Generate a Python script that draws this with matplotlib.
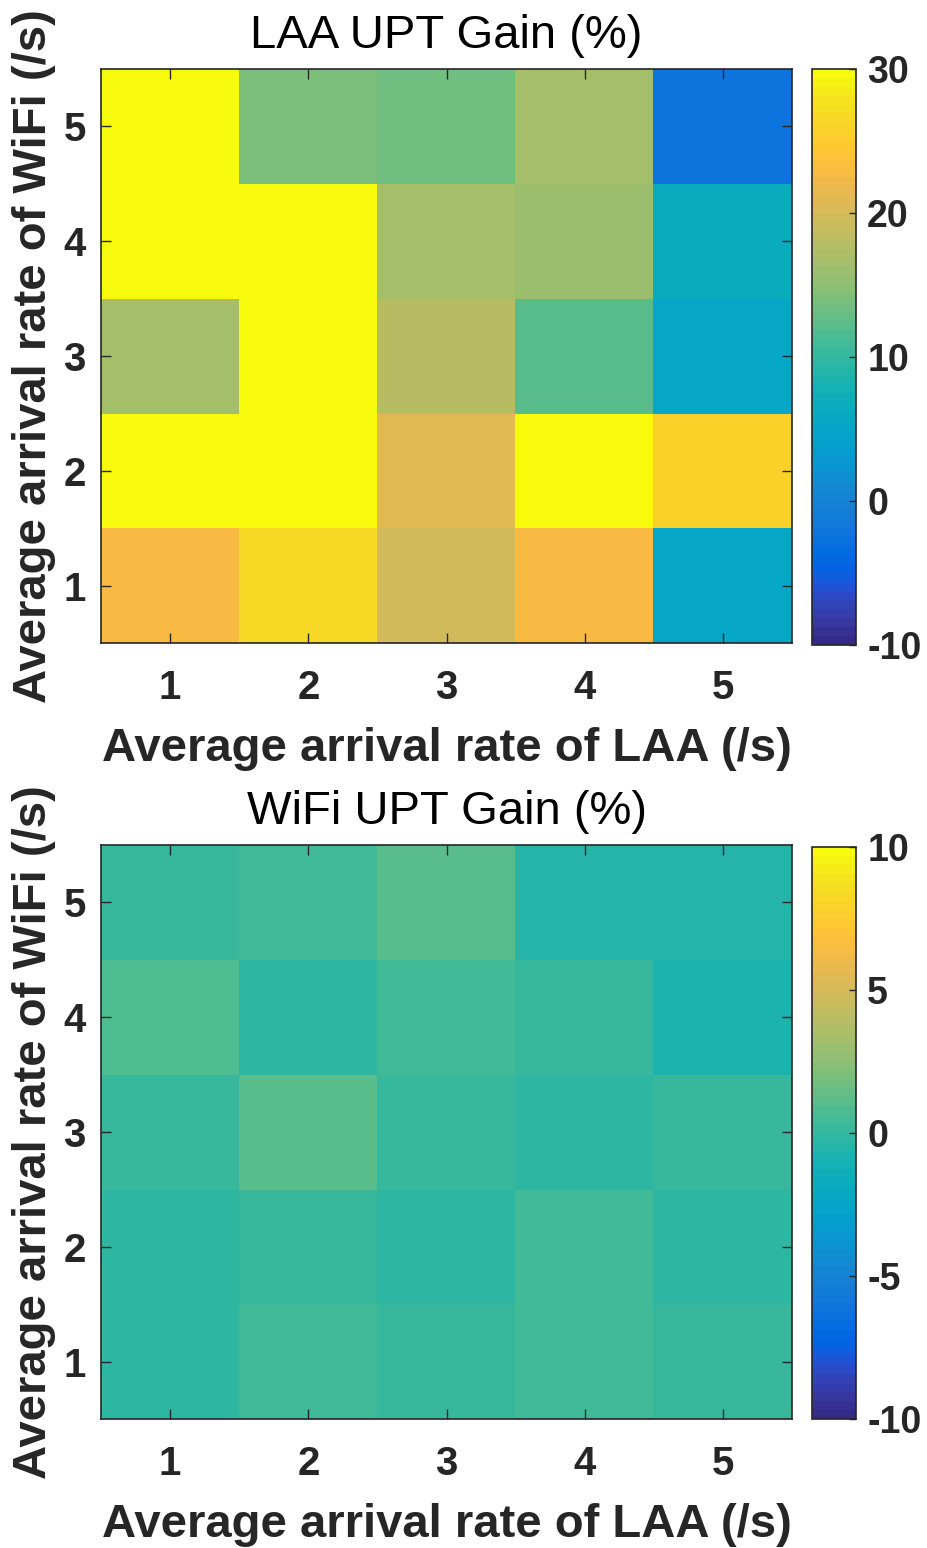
"""
Heat maps of the UPT gain for LAA and WiFi over the arrival rates of both systems
"""
import numpy as np
import matplotlib.pyplot as plt
from matplotlib.colors import ListedColormap

# parula, 64 entries
PARULA = ListedColormap([
    [0.2081, 0.1663, 0.5292], [0.2116, 0.1898, 0.5777], [0.2123, 0.2138, 0.6270],
    [0.2081, 0.2386, 0.6771], [0.1959, 0.2645, 0.7279], [0.1707, 0.2919, 0.7792],
    [0.1253, 0.3242, 0.8303], [0.0591, 0.3598, 0.8683], [0.0117, 0.3875, 0.8820],
    [0.0060, 0.4086, 0.8828], [0.0165, 0.4266, 0.8786], [0.0329, 0.4430, 0.8720],
    [0.0498, 0.4586, 0.8641], [0.0629, 0.4737, 0.8554], [0.0723, 0.4887, 0.8467],
    [0.0779, 0.5040, 0.8384], [0.0793, 0.5200, 0.8312], [0.0749, 0.5375, 0.8263],
    [0.0641, 0.5570, 0.8240], [0.0488, 0.5772, 0.8228], [0.0343, 0.5966, 0.8199],
    [0.0265, 0.6137, 0.8135], [0.0239, 0.6287, 0.8038], [0.0231, 0.6418, 0.7913],
    [0.0228, 0.6535, 0.7768], [0.0267, 0.6642, 0.7607], [0.0384, 0.6743, 0.7436],
    [0.0590, 0.6838, 0.7254], [0.0843, 0.6928, 0.7062], [0.1133, 0.7015, 0.6859],
    [0.1453, 0.7098, 0.6646], [0.1801, 0.7177, 0.6424], [0.2178, 0.7250, 0.6193],
    [0.2586, 0.7317, 0.5954], [0.3022, 0.7376, 0.5712], [0.3482, 0.7424, 0.5473],
    [0.3953, 0.7459, 0.5244], [0.4420, 0.7481, 0.5033], [0.4871, 0.7491, 0.4840],
    [0.5300, 0.7491, 0.4661], [0.5709, 0.7485, 0.4494], [0.6099, 0.7473, 0.4337],
    [0.6473, 0.7456, 0.4188], [0.6834, 0.7435, 0.4044], [0.7184, 0.7411, 0.3905],
    [0.7525, 0.7384, 0.3768], [0.7858, 0.7356, 0.3633], [0.8185, 0.7327, 0.3498],
    [0.8507, 0.7299, 0.3360], [0.8824, 0.7274, 0.3217], [0.9139, 0.7258, 0.3063],
    [0.9450, 0.7261, 0.2886], [0.9739, 0.7314, 0.2666], [0.9938, 0.7455, 0.2403],
    [0.9990, 0.7653, 0.2164], [0.9955, 0.7861, 0.1967], [0.9880, 0.8066, 0.1794],
    [0.9789, 0.8271, 0.1633], [0.9697, 0.8481, 0.1475], [0.9626, 0.8705, 0.1309],
    [0.9589, 0.8949, 0.1132], [0.9598, 0.9218, 0.0948], [0.9661, 0.9514, 0.0755],
    [0.9763, 0.9831, 0.0538]], name='parula')

laa_rate = [1, 2, 3, 4, 5]
wifi_rate = [1, 2, 3, 4, 5]

# rows: WiFi rate 1..5, columns: LAA rate 1..5
laa_gain = np.array([
    [22.8, 26.6, 19.7, 22.8, 5.3],
    [30.0, 30.0, 20.9, 30.0, 26.0],
    [16.6, 30.0, 17.8, 12.2, 5.3],
    [30.0, 30.0, 16.6, 16.0, 6.6],
    [30.0, 14.1, 13.4, 16.6, -2.2],
])
wifi_gain = np.array([
    [-0.16, 0.47, 0.16, 0.47, 0.16],
    [-0.16, 0.16, -0.16, 0.47, -0.16],
    [0.16, 1.10, 0.16, -0.16, 0.16],
    [0.78, -0.16, 0.47, 0.16, -0.78],
    [0.16, 0.47, 1.10, -0.47, -0.47],
])

titles = ['LAA UPT Gain (%)', 'WiFi UPT Gain (%)']
clims = [(-10, 30), (-10, 10)]
cticks = [[-10, 0, 10, 20, 30], [-10, -5, 0, 5, 10]]

DARK = '#262626'
TITLE_FONT = ['Liberation Sans Narrow', 'Liberation Sans', 'DejaVu Sans']
plt.rcParams['font.family'] = ['Liberation Sans', 'DejaVu Sans']
plt.rcParams['axes.unicode_minus'] = False

fig = plt.figure(figsize=(9.27, 15.48), dpi=100)

ax_pos = [[0.109, 0.5846, 0.7454, 0.3708], [0.109, 0.0833, 0.7454, 0.3708]]
cb_pos = [[0.876, 0.5833, 0.0475, 0.3721], [0.876, 0.0833, 0.0475, 0.3695]]

for data, title, clim, ct, apos, cpos in zip([laa_gain, wifi_gain], titles, clims,
                                           cticks, ax_pos, cb_pos):
    ax = fig.add_axes(apos)
    im = ax.imshow(data, cmap=PARULA, vmin=clim[0], vmax=clim[1], origin='lower',
                   aspect='auto', interpolation='nearest',
                   extent=(laa_rate[0] - 0.5, laa_rate[-1] + 0.5,
                           wifi_rate[0] - 0.5, wifi_rate[-1] + 0.5))
    ax.set_xticks(laa_rate)
    ax.set_yticks(wifi_rate)
    ax.tick_params(direction='in', top=True, right=True, length=7, width=1,
                   color=DARK, labelcolor=DARK, labelsize=29)
    ax.tick_params(axis='x', pad=19)
    ax.tick_params(axis='y', pad=11)
    for lab in ax.get_xticklabels() + ax.get_yticklabels():
        lab.set_fontweight('bold')
    for sp in ax.spines.values():
        sp.set_color(DARK)
        sp.set_linewidth(1.2)
    ax.set_xlabel('Average arrival rate of LAA (/s)', fontsize=34,
                  fontweight='bold', color=DARK, labelpad=14)
    ax.set_ylabel('Average arrival rate of WiFi (/s)', fontsize=34,
                  fontweight='bold', color=DARK, labelpad=5)
    ax.set_title(title, fontsize=34, family=TITLE_FONT, pad=15)

    cax = fig.add_axes(cpos)
    cb = fig.colorbar(im, cax=cax, ticks=ct)
    cb.outline.set_edgecolor(DARK)
    cb.outline.set_linewidth(1.2)
    cax.tick_params(direction='in', length=5, width=1, color=DARK,
                    labelcolor=DARK, labelsize=27, pad=8)
    for lab in cax.get_yticklabels():
        lab.set_fontweight('bold')

fig.savefig('out.png', dpi=100)
